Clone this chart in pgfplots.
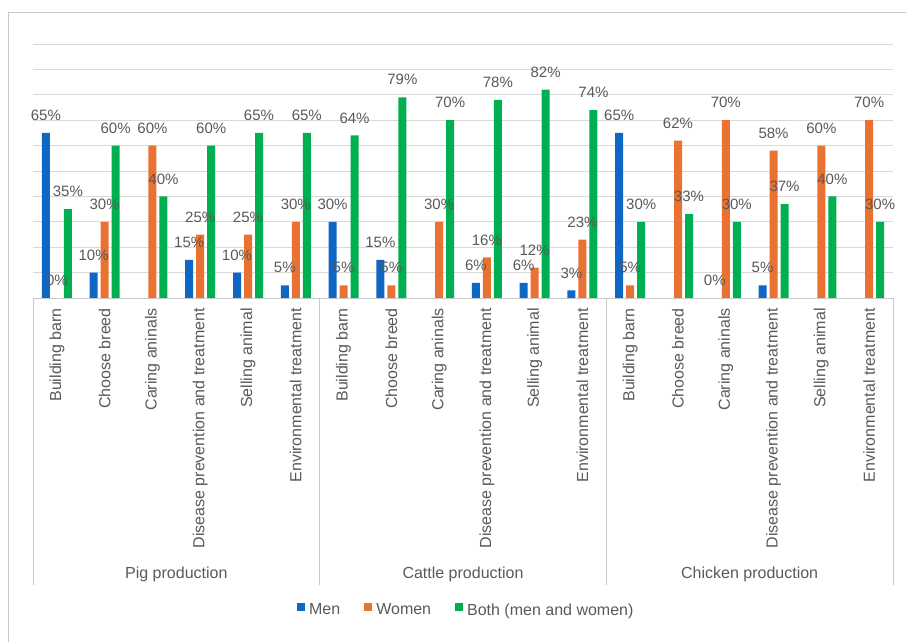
\documentclass[border=0pt]{standalone}
\usepackage{fontspec}
\setmainfont{Liberation Sans}
\usepackage{pgfplots}
\usepackage{pgfplotstable}
\pgfplotsset{compat=1.18}

\definecolor{menblue}{RGB}{15,103,197}
\definecolor{womenorange}{RGB}{233,113,50}
\definecolor{bothgreen}{RGB}{0,176,80}
\definecolor{labelgray}{RGB}{89,89,89}
\definecolor{gridgray}{RGB}{217,217,217}
\definecolor{framegray}{RGB}{200,200,200}

% Share of decisions per activity (percent); x = activity index
% 0-5 pig, 6-11 cattle, 12-17 chicken. Activities without an answer are left out.
\pgfplotstableread{
x v
0 65
1 10
3 15
4 10
5 5
6 30
7 15
9 6
10 6
11 3
12 65
14 0
15 5
}\mentable

\pgfplotstableread{
x v
0 0
1 30
2 60
3 25
4 25
5 30
6 5
7 5
8 30
9 16
10 12
11 23
12 5
13 62
14 70
15 58
16 60
17 70
}\womentable

\pgfplotstableread{
x v
0 35
1 60
2 40
3 60
4 65
5 65
6 64
7 79
8 70
9 78
10 82
11 74
12 30
13 33
14 30
15 37
16 40
17 30
}\bothtable

\newcommand{\labelfont}{\fontsize{16pt}{19pt}\selectfont}
\newcommand{\valuefont}{\fontsize{15pt}{18pt}\selectfont}

\begin{document}
\labelfont
\begin{tikzpicture}[x=1pt,y=1pt]
\useasboundingbox (0pt,0pt) rectangle (906pt,641pt);
\draw[framegray, line width=0.8pt] (8pt,-20pt) -- (8pt,629pt) -- (940pt,629pt);
\begin{axis}[
  at={(33pt,343pt)}, anchor=south west,
  width=860pt, height=254pt, scale only axis,
  xmin=-0.5, xmax=17.5, ymin=0, ymax=100,
  clip=false,
  axis line style={draw=none},
  ytick={0,10,...,100}, yticklabels={},
  ymajorgrids, major grid style={gridgray, line width=0.8pt},
  major tick length=0pt,
  xtick={0,...,17},
  xticklabels={Building barn, Choose breed, Caring aninals, Disease prevention and treatment, Selling animal, Environmental treatment,
               Building barn, Choose breed, Caring aninals, Disease prevention and treatment, Selling animal, Environmental treatment,
               Building barn, Choose breed, Caring aninals, Disease prevention and treatment, Selling animal, Environmental treatment},
  xticklabel style={rotate=90, anchor=east, inner sep=0pt, text=labelgray, font=\labelfont},
  xticklabel shift=10pt,
  ybar, bar width=8pt,
  /pgf/number format/assume math mode=true,
  every node near coord/.append style={text=labelgray, inner sep=0pt, anchor=south, yshift=12pt, font=\valuefont},
  legend columns=3,
  legend style={at={(0.505,-1.23)}, anchor=center, draw=none, fill=none,
    text=labelgray, font=\labelfont,
    /tikz/every even column/.append style={column sep=20pt},
    nodes={inner xsep=4pt, inner ysep=2pt}},
  legend image code/.code={\fill[#1] (0pt,-1pt) rectangle (8pt,7pt);},
]
% bars
\addplot[fill=menblue, draw=none, bar shift=-11pt] table[x=x,y=v] {\mentable};
\addplot[fill=womenorange, draw=none, bar shift=0pt] table[x=x,y=v] {\womentable};
\addplot[fill=bothgreen, draw=none, bar shift=11pt] table[x=x,y=v] {\bothtable};
\legend{Men, Women, Both (men and women)}
% value labels, drawn after all bars so they sit on top
\addplot[draw=none, fill=none, bar shift=-11pt, forget plot,
  nodes near coords={\pgfmathprintnumber[fixed,precision=0]{\pgfplotspointmeta}\%}] table[x=x,y=v] {\mentable};
\addplot[draw=none, fill=none, bar shift=0pt, forget plot,
  nodes near coords={\pgfmathprintnumber[fixed,precision=0]{\pgfplotspointmeta}\%}] table[x=x,y=v] {\womentable};
\addplot[draw=none, fill=none, bar shift=11pt, forget plot,
  nodes near coords={\pgfmathprintnumber[fixed,precision=0]{\pgfplotspointmeta}\%}] table[x=x,y=v] {\bothtable};
% category boxes
\draw[framegray, line width=0.8pt] (axis cs:-0.5,0) -- (axis cs:17.5,0);
\draw[framegray, line width=0.8pt] (axis cs:-0.5,0) -- ++(0pt,-287pt);
\draw[framegray, line width=0.8pt] (axis cs:5.5,0) -- ++(0pt,-287pt);
\draw[framegray, line width=0.8pt] (axis cs:11.5,0) -- ++(0pt,-287pt);
\draw[framegray, line width=0.8pt] (axis cs:17.5,0) -- ++(0pt,-287pt);
\node[text=labelgray] at (axis cs:2.5,0) [yshift=-276pt] {Pig production};
\node[text=labelgray] at (axis cs:8.5,0) [yshift=-276pt] {Cattle production};
\node[text=labelgray] at (axis cs:14.5,0) [yshift=-276pt] {Chicken production};
\end{axis}
\end{tikzpicture}
\end{document}
